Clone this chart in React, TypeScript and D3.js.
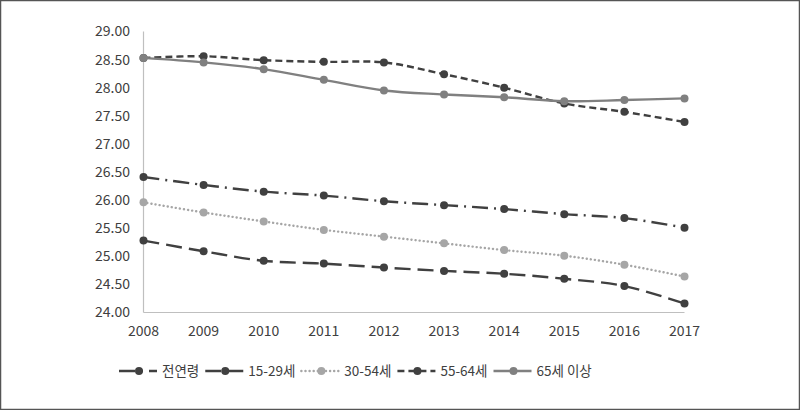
import React, { useEffect, useRef } from "react";
import * as d3 from "d3";

const years = ["2008", "2009", "2010", "2011", "2012", "2013", "2014", "2015", "2016", "2017"];
const seriesNames = ["전연령", "15-29세", "30-54세", "55-64세", "65세 이상"];
const allAges = [26.41, 26.27, 26.15, 26.08, 25.98, 25.91, 25.84, 25.75, 25.68, 25.51];
const age15to29 = [25.28, 25.09, 24.92, 24.87, 24.8, 24.74, 24.69, 24.6, 24.47, 24.16];
const age30to54 = [25.96, 25.78, 25.62, 25.47, 25.35, 25.23, 25.11, 25.01, 24.85, 24.64];
const age55to64 = [28.53, 28.56, 28.49, 28.46, 28.45, 28.24, 28.0, 27.72, 27.57, 27.39];
const age65plus = [28.53, 28.45, 28.33, 28.14, 27.95, 27.88, 27.83, 27.76, 27.78, 27.81];
const yTicks = [24, 24.5, 25, 25.5, 26, 26.5, 27, 27.5, 28, 28.5, 29];

const seriesValues = [allAges, age15to29, age30to54, age55to64, age65plus];
const styles = [
  { color: "#404040", marker: "#404040", dash: "16 6 2 6", cap: "butt" },
  { color: "#404040", marker: "#404040", dash: "16 7", cap: "butt" },
  { color: "#a6a6a6", marker: "#a6a6a6", dash: "0.1 4", cap: "round" },
  { color: "#404040", marker: "#404040", dash: "7 4", cap: "butt" },
  { color: "#808080", marker: "#808080", dash: null, cap: "butt" },
];

const W = 800;
const H = 410;
const FONT = "'Noto Sans CJK KR', 'Noto Sans', sans-serif";

export default function App() {
  const ref = useRef<SVGSVGElement | null>(null);

  useEffect(() => {
    const svg = d3.select(ref.current);
    svg.selectAll("*").remove();

    svg.append("rect").attr("x", 0.5).attr("y", 0.5).attr("width", W - 1).attr("height", H - 1)
      .attr("fill", "#fff").attr("stroke", "#555").attr("stroke-width", 1.5);

    const x = d3.scalePoint<string>().domain(years).range([143.5, 684.5]);
    const y = d3.scaleLinear().domain([24, 29]).range([312.5, 31.5]);

    // axes
    svg.append("line").attr("x1", 143.5).attr("x2", 143.5).attr("y1", y(29)).attr("y2", y(24))
      .attr("stroke", "#bfbfbf").attr("stroke-width", 1.2);
    svg.append("line").attr("x1", 143.5).attr("x2", 684.5).attr("y1", y(24)).attr("y2", y(24))
      .attr("stroke", "#bfbfbf").attr("stroke-width", 1.2);

    svg.append("g").selectAll("text").data(yTicks).join("text")
      .attr("x", 130).attr("y", (d) => y(d)).attr("dy", "0.35em")
      .attr("text-anchor", "end").attr("font-family", FONT).attr("font-size", 14)
      .attr("fill", "#404040").text((d) => d.toFixed(2));

    svg.append("g").selectAll("text").data(years).join("text")
      .attr("x", (d) => x(d)!).attr("y", 331).attr("dy", "0.35em")
      .attr("text-anchor", "middle").attr("font-family", FONT).attr("font-size", 14)
      .attr("fill", "#404040").text((d) => d);

    const line = d3.line<number>()
      .x((_, i) => x(years[i])!)
      .y((d) => y(d))
      .curve(d3.curveCatmullRom.alpha(0.5));

    seriesValues.forEach((vals, si) => {
      const s = styles[si];
      const g = svg.append("g");
      g.append("path").attr("d", line(vals)!).attr("fill", "none")
        .attr("stroke", s.color).attr("stroke-width", 2.4)
        .attr("stroke-dasharray", s.dash ?? null)
        .attr("stroke-linecap", s.cap);
      g.selectAll("circle").data(vals).join("circle")
        .attr("cx", (_, i) => x(years[i])!).attr("cy", (d) => y(d)).attr("r", 4)
        .attr("fill", s.marker);
    });

    // legend
    const lg = svg.append("g");
    let cx = 119;
    const ly = 371;
    seriesNames.forEach((name, si) => {
      const s = styles[si];
      const item = lg.append("g");
      item.append("line").attr("x1", cx).attr("x2", cx + 38).attr("y1", ly).attr("y2", ly)
        .attr("stroke", s.color).attr("stroke-width", 2.4)
        .attr("stroke-dasharray", s.dash ?? null).attr("stroke-linecap", s.cap);
      item.append("circle").attr("cx", cx + 20).attr("cy", ly).attr("r", 4).attr("fill", s.marker);
      const t = item.append("text").attr("x", cx + 43).attr("y", ly).attr("dy", "0.35em")
        .attr("font-family", FONT).attr("font-size", 13.5).attr("fill", "#404040").text(name);
      const w = (t.node() as SVGTextElement).getComputedTextLength();
      cx = cx + 43 + w + 6;
    });
  }, []);

  return (
    <svg ref={ref} width={W} height={H}
      style={{ position: "absolute", left: 0, top: 0, display: "block" }} />
  );
}
